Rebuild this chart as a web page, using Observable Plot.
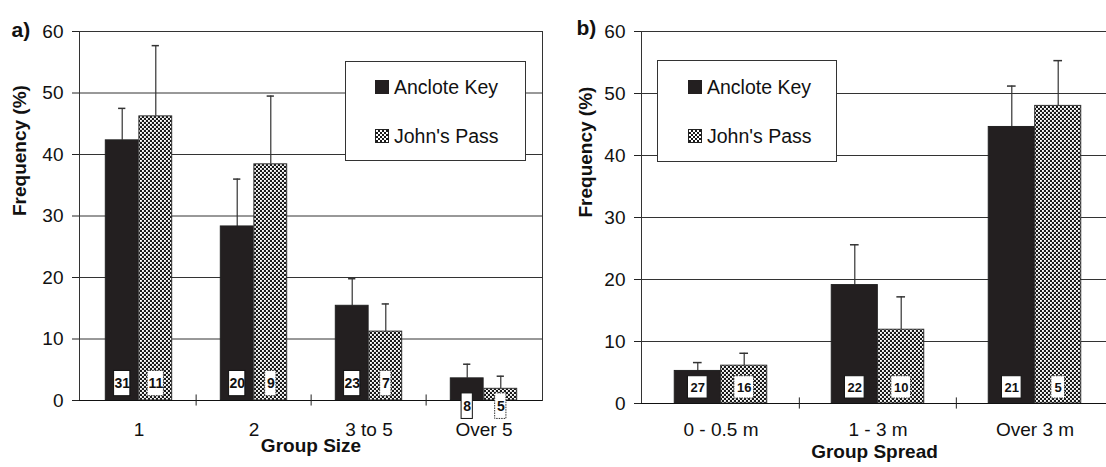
<!DOCTYPE html>
<html><head><meta charset="utf-8">
<script src="https://cdn.jsdelivr.net/npm/d3@7"></script>
<script src="https://cdn.jsdelivr.net/npm/@observablehq/plot@0.6"></script>
<style>
body{margin:0;background:#fff;font-family:"Liberation Sans",Arial,sans-serif;}
#wrap{position:relative;width:1106px;height:467px;overflow:hidden;background:#fff;}
.panel{position:absolute;top:0;width:560px;height:467px;}
.panel svg{max-width:none !important;}
.legend{position:absolute;background:#fff;border:1.5px solid #333;box-sizing:border-box;}
.item{position:absolute;font-size:19.5px;line-height:1;white-space:nowrap;color:#111;}
.sw{position:absolute;width:14px;height:14px;box-sizing:border-box;}
.sw.a{background:#231f20;}
.sw.j{background:repeating-conic-gradient(#1a1a1a 0 25%, #fff 0 50%) 0 0/4px 4px;border:1px solid #222;}
</style></head><body><div id="wrap"></div>
<script>
// ---- data ----
const sizeCats = ["1", "2", "3 to 5", "Over 5"];
const sizeAnclote = [42.3, 28.3, 15.4, 3.6];
const sizeAncloteErr = [5.2, 7.7, 4.4, 2.3];
const sizeJohn = [46.2, 38.4, 11.2, 1.9];
const sizeJohnErr = [11.5, 11.1, 4.5, 2.05];
const sizeAncloteN = [31, 20, 23, 8];
const sizeJohnN = [11, 9, 7, 5];

const spreadCats = ["0 - 0.5 m", "1 - 3 m", "Over 3 m"];
const spreadAnclote = [5.25, 19.1, 44.6];
const spreadAncloteErr = [1.35, 6.5, 6.6];
const spreadJohn = [6.1, 11.9, 48.0];
const spreadJohnErr = [2.0, 5.3, 7.3];
const spreadAncloteN = [27, 22, 21];
const spreadJohnN = [16, 10, 5];

const seriesNames = ["Anclote Key", "John's Pass"];
const yTicks = [0, 10, 20, 30, 40, 50, 60];

const wrap = document.getElementById("wrap");

function makePanel(o) {
  const rows = o.cats.map((c, i) => ({cat: c, a: o.anclote[i], ae: o.ancloteErr[i], j: o.john[i], je: o.johnErr[i], an: o.ancloteN[i], jn: o.johnN[i]}));
  const plotW = o.width - o.marginLeft - o.marginRight;
  const step = plotW / o.cats.length;
  const half = step / 2;
  const bw = step * o.barFrac;
  const centered = (side, w) => side < 0
    ? {insetLeft: half - bw / 2 - w / 2, insetRight: half + bw / 2 - w / 2}
    : {insetLeft: half + bw / 2 - w / 2, insetRight: half - bw / 2 - w / 2};
  const boxY = v => (v < o.box[1] ? o.boxLow : o.box);
  const series = [
    {v: "a", e: "ae", n: "an", side: -1, fill: "#231f20", stroke: "#222", inset: {insetLeft: half - bw, insetRight: half}, boxStroke: "#111", dash: null},
    {v: "j", e: "je", n: "jn", side: 1, fill: `url(#${o.pid})`, stroke: "#333", inset: {insetLeft: half, insetRight: half - bw}, boxStroke: "#333", dash: "1.5,1"}
  ];
  const marks = [
    Plot.gridY(yTicks.slice(1, -1), {stroke: "#333", strokeOpacity: 1, strokeWidth: 1}),
    Plot.frame({stroke: "#333", strokeWidth: 1})
  ];
  for (const s of series) {
    marks.push(Plot.ruleX(rows, {x: "cat", y1: d => d[s.v], y2: d => d[s.v] + d[s.e], dx: s.side * bw / 2, stroke: "#333", strokeWidth: 1.2}));
    marks.push(Plot.tickY(rows, {x: "cat", y: d => d[s.v] + d[s.e], stroke: "#333", strokeWidth: 1.5, ...centered(s.side, o.capW)}));
    marks.push(Plot.barY(rows, {x: "cat", y: s.v, fill: s.fill, stroke: s.stroke, strokeWidth: 1, ...s.inset}));
  }
  marks.push(Plot.ruleY([0], {stroke: "#111", strokeWidth: 1.2}));
  marks.push(Plot.ruleX(o.cats.slice(1), {x: d => d, dx: -half, y1: () => -o.tickLen, y2: () => o.tickLen, stroke: "#222"}));
  for (const s of series) {
    for (const digits of [1, 2]) {
      const sub = rows.filter(d => String(d[s.n]).length === digits);
      const w = digits === 1 ? o.boxW1 : o.boxW2;
      marks.push(Plot.barY(sub, {x: "cat", y1: d => boxY(d[s.v])[0], y2: d => boxY(d[s.v])[1], fill: "white", stroke: s.boxStroke, strokeWidth: 1, strokeDasharray: s.dash, ...centered(s.side, w)}));
    }
    marks.push(Plot.text(rows, {x: "cat", y: d => (boxY(d[s.v])[0] + boxY(d[s.v])[1]) / 2, text: d => String(d[s.n]), dx: s.side * bw / 2, fontWeight: "bold", fontSize: o.nFont, fill: "#111"}));
  }
  marks.push(Plot.axisY({ticks: yTicks, tickSize: 7, tickPadding: 9, label: null, fontSize: 19, stroke: "#222"}));
  marks.push(Plot.axisX({tickSize: 0, tickPadding: o.xPad, label: null, fontSize: 19}));
  marks.push(Plot.text([o.xTitle], {text: d => d, frameAnchor: "bottom", dy: o.xTitleDy, dx: o.xTitleDx, fontWeight: "bold", fontSize: 19}));
  marks.push(Plot.text(["Frequency (%)"], {text: d => d, frameAnchor: "left", rotate: -90, dx: o.yTitleDx, fontWeight: "bold", fontSize: 19}));
  marks.push(Plot.text([o.tag], {text: d => d, frameAnchor: "top-left", textAnchor: "start", dx: o.tagDx, dy: o.tagDy, fontWeight: "bold", fontSize: 21}));

  const svg = Plot.plot({
    width: o.width, height: 467,
    marginLeft: o.marginLeft, marginRight: o.marginRight, marginTop: o.marginTop, marginBottom: o.marginBottom,
    x: {domain: o.cats, padding: 0},
    y: {domain: [0, 60]},
    style: {fontFamily: "'Liberation Sans', Arial, sans-serif", fontSize: "19px", color: "#111", background: "transparent", overflow: "visible"},
    marks
  });
  svg.style.maxWidth = "none";
  svg.style.width = o.width + "px";
  svg.style.height = "467px";
  d3.select(svg).insert("defs", ":first-child").html(
    `<pattern id="${o.pid}" patternUnits="userSpaceOnUse" width="4" height="4">
       <rect width="4" height="4" fill="#1a1a1a"/>
       <rect x="0" y="0" width="1.9" height="1.9" fill="#fff"/>
       <rect x="2" y="2" width="1.9" height="1.9" fill="#fff"/>
     </pattern>`);
  const div = document.createElement("div");
  div.className = "panel";
  div.style.left = o.left + "px";
  div.style.width = o.width + "px";
  div.appendChild(svg);
  wrap.appendChild(div);

  // legend
  const L = o.legend;
  const lg = document.createElement("div");
  lg.className = "legend";
  Object.assign(lg.style, {left: L.x + "px", top: L.y + "px", width: L.w + "px", height: L.h + "px"});
  seriesNames.forEach((name, i) => {
    const cy = L.cy[i];
    const sw = document.createElement("div");
    sw.className = "sw " + (i === 0 ? "a" : "j");
    Object.assign(sw.style, {left: L.swX + "px", top: (cy - 7) + "px"});
    const t = document.createElement("div");
    t.className = "item";
    t.textContent = name;
    Object.assign(t.style, {left: L.txX + "px", top: (cy - 9.5) + "px"});
    lg.appendChild(sw); lg.appendChild(t);
  });
  wrap.appendChild(lg);
}

makePanel({
  pid: "chkA", left: 0, width: 560, marginLeft: 79, marginRight: 18, marginTop: 31, marginBottom: 67,
  cats: sizeCats, anclote: sizeAnclote, ancloteErr: sizeAncloteErr, john: sizeJohn, johnErr: sizeJohnErr,
  ancloteN: sizeAncloteN, johnN: sizeJohnN,
  barFrac: 0.29, capW: 8, tickLen: 0.9, box: [0.7, 4.8], boxLow: [-3.0, 1.15], boxW1: 12, boxW2: 17, nFont: 14,
  xPad: 22, xTitleDy: 51, xTitleDx: 0, yTitleDx: -60, tag: "a)", tagDx: -68, tagDy: -9,
  xTitle: "Group Size",
  legend: {x: 345, y: 61, w: 181, h: 100, swX: 29, txX: 48, cy: [25, 74]}
});
makePanel({
  pid: "chkB", left: 560, width: 560, marginLeft: 81, marginRight: 7, marginTop: 31, marginBottom: 64,
  cats: spreadCats, anclote: spreadAnclote, ancloteErr: spreadAncloteErr, john: spreadJohn, johnErr: spreadJohnErr,
  ancloteN: spreadAncloteN, johnN: spreadJohnN,
  barFrac: 0.295, capW: 9, tickLen: 0.9, box: [0.8, 4.4], boxLow: [-3.0, 1.15], boxW1: 14, boxW2: 20, nFont: 13,
  xPad: 19, xTitleDy: 54, xTitleDx: -3, yTitleDx: -56, tag: "b)", tagDx: -65, tagDy: -11,
  xTitle: "Group Spread",
  legend: {x: 657, y: 60, w: 180, h: 102, swX: 30, txX: 49, cy: [26, 75]}
});
</script></body></html>
